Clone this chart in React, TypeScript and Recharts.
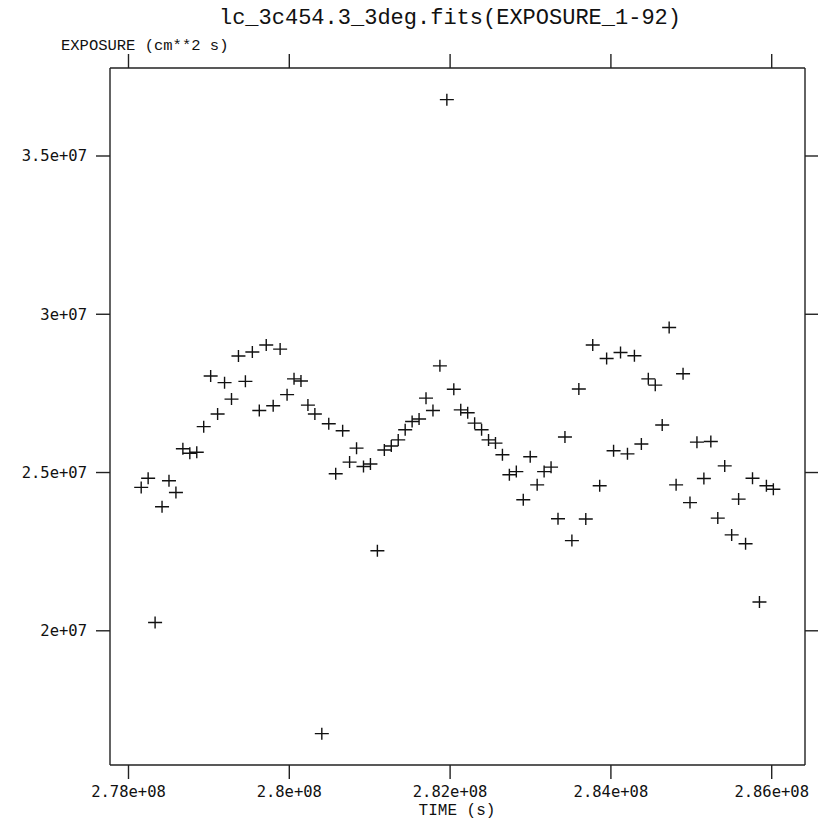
import React from 'react';
import { ScatterChart, Scatter, XAxis, YAxis } from 'recharts';

// one bin per day (86400 s)
const times = [
  278158000, 278244400, 278330800, 278417200, 278503600, 278590000, 278676400, 278762800,
  278849200, 278935600, 279022000, 279108400, 279194800, 279281200, 279367600, 279454000,
  279540400, 279626800, 279713200, 279799600, 279886000, 279972400, 280058800, 280145200,
  280231600, 280318000, 280404400, 280490800, 280577200, 280663600, 280750000, 280836400,
  280922800, 281009200, 281095600, 281182000, 281268400, 281354800, 281441200, 281527600,
  281614000, 281700400, 281786800, 281873200, 281959600, 282046000, 282132400, 282218800,
  282305200, 282391600, 282478000, 282564400, 282650800, 282737200, 282823600, 282910000,
  282996400, 283082800, 283169200, 283255600, 283342000, 283428400, 283514800, 283601200,
  283687600, 283774000, 283860400, 283946800, 284033200, 284119600, 284206000, 284292400,
  284378800, 284465200, 284551600, 284638000, 284724400, 284810800, 284897200, 284983600,
  285070000, 285156400, 285242800, 285329200, 285415600, 285502000, 285588400, 285674800,
  285761200, 285847600, 285934000, 286020400,
];

const exposure = [
  2.453e7, 2.482e7, 2.026e7, 2.392e7, 2.474e7, 2.437e7, 2.575e7, 2.561e7,
  2.564e7, 2.645e7, 2.805e7, 2.685e7, 2.784e7, 2.732e7, 2.868e7, 2.788e7,
  2.881e7, 2.696e7, 2.903e7, 2.711e7, 2.890e7, 2.746e7, 2.796e7, 2.789e7,
  2.713e7, 2.685e7, 1.675e7, 2.654e7, 2.496e7, 2.632e7, 2.533e7, 2.577e7,
  2.519e7, 2.527e7, 2.253e7, 2.571e7, 2.584e7, 2.603e7, 2.635e7, 2.661e7,
  2.669e7, 2.735e7, 2.696e7, 2.837e7, 3.678e7, 2.763e7, 2.698e7, 2.689e7,
  2.656e7, 2.635e7, 2.603e7, 2.593e7, 2.556e7, 2.493e7, 2.503e7, 2.414e7,
  2.550e7, 2.461e7, 2.503e7, 2.517e7, 2.354e7, 2.612e7, 2.285e7, 2.764e7,
  2.353e7, 2.903e7, 2.458e7, 2.860e7, 2.569e7, 2.879e7, 2.559e7, 2.869e7,
  2.590e7, 2.796e7, 2.776e7, 2.650e7, 2.958e7, 2.461e7, 2.812e7, 2.405e7,
  2.596e7, 2.481e7, 2.598e7, 2.356e7, 2.521e7, 2.303e7, 2.416e7, 2.275e7,
  2.482e7, 2.091e7, 2.458e7, 2.447e7,
];

const xTicks = [2.78e8, 2.8e8, 2.82e8, 2.84e8, 2.86e8];
const xTickLabels = ['2.78e+08', '2.8e+08', '2.82e+08', '2.84e+08', '2.86e+08'];
const yTicks = [2e7, 2.5e7, 3e7, 3.5e7];
const yTickLabels = ['2e+07', '2.5e+07', '3e+07', '3.5e+07'];

const data = times.map((t, i) => ({ time: t, exposure: exposure[i] }));

const xDomain = [2.7777e8, 2.86414e8];
const yDomain = [1.576e7, 3.778e7];

const tickFont = { fontSize: 15.5, fontFamily: 'DejaVu Sans Mono', fill: '#111' };
const labelFont = 'Liberation Mono';
const ink = '#222';

function Cross(props: any) {
  const { cx, cy } = props;
  if (cx == null || cy == null) return <g />;
  return (
    <path
      d={`M${cx - 7},${cy}H${cx + 7}M${cx},${cy - 6}V${cy + 6}`}
      stroke="#111"
      strokeWidth={1.4}
      fill="none"
    />
  );
}

const Empty = () => <g />;

export default function App() {
  return (
    <div style={{ position: 'absolute', left: 0, top: 0, width: 818, height: 824, background: '#fff' }}>
      <ScatterChart width={818} height={824} margin={{ top: 0, right: 0, bottom: 0, left: 0 }}>
        <XAxis
          xAxisId="b"
          type="number"
          dataKey="time"
          domain={xDomain}
          allowDataOverflow
          ticks={xTicks}
          interval={0}
          height={59}
          tickSize={14}
          tickMargin={7}
          tick={tickFont}
          tickFormatter={(v: number) => xTickLabels[xTicks.indexOf(v)]}
          axisLine={{ stroke: ink, strokeWidth: 1.4 }}
          tickLine={{ stroke: ink, strokeWidth: 1.4 }}
        />
        <XAxis
          xAxisId="t"
          orientation="top"
          type="number"
          dataKey="time"
          domain={xDomain}
          allowDataOverflow
          ticks={xTicks}
          interval={0}
          height={68}
          tickSize={14}
          tick={Empty}
          axisLine={{ stroke: ink, strokeWidth: 1.4 }}
          tickLine={{ stroke: ink, strokeWidth: 1.4 }}
        />
        <YAxis
          yAxisId="l"
          type="number"
          dataKey="exposure"
          domain={yDomain}
          allowDataOverflow
          ticks={yTicks}
          interval={0}
          width={110}
          tickSize={14}
          tickMargin={9}
          tick={tickFont}
          tickFormatter={(v: number) => yTickLabels[yTicks.indexOf(v)]}
          axisLine={{ stroke: ink, strokeWidth: 1.4 }}
          tickLine={{ stroke: ink, strokeWidth: 1.4 }}
        />
        <YAxis
          yAxisId="r"
          orientation="right"
          type="number"
          dataKey="exposure"
          domain={yDomain}
          allowDataOverflow
          ticks={yTicks}
          interval={0}
          width={13}
          tickSize={14}
          tick={Empty}
          axisLine={{ stroke: ink, strokeWidth: 1.4 }}
          tickLine={{ stroke: ink, strokeWidth: 1.4 }}
        />
        <Scatter xAxisId="t" yAxisId="r" data={data} shape={Empty} isAnimationActive={false} />
        <Scatter xAxisId="b" yAxisId="l" data={data} shape={Cross} isAnimationActive={false} />
      </ScatterChart>
      <svg
        width={818}
        height={824}
        style={{ position: 'absolute', left: 0, top: 0, pointerEvents: 'none' }}
      >
        <text x={450} y={24} textAnchor="middle" fontFamily={labelFont} fontSize={22} fill="#111">
          lc_3c454.3_3deg.fits(EXPOSURE_1-92)
        </text>
        <text x={61} y={50} fontFamily={labelFont} fontSize={15.5} fill="#111">
          EXPOSURE (cm**2 s)
        </text>
        <text x={457} y={815} textAnchor="middle" fontFamily={labelFont} fontSize={16} fill="#111">
          TIME (s)
        </text>
      </svg>
    </div>
  );
}
